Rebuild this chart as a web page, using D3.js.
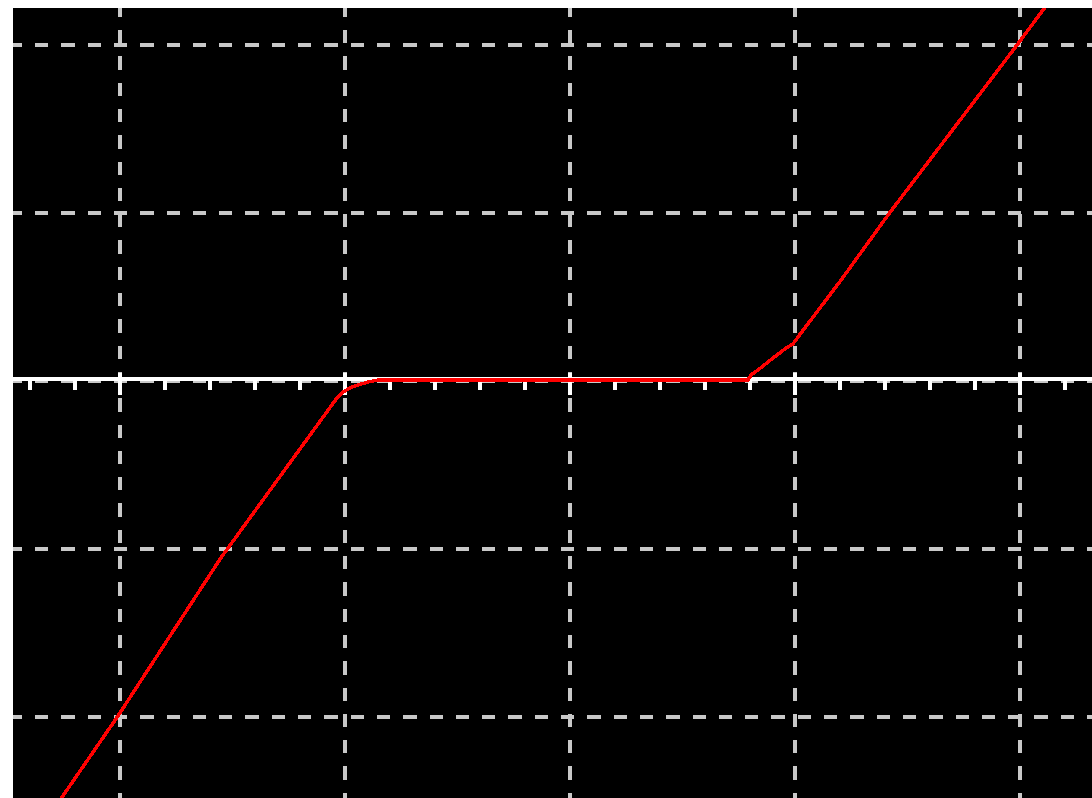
<!DOCTYPE html>
<html>
<head>
<meta charset="utf-8">
<script src="https://cdn.jsdelivr.net/npm/d3@7"></script>
<style>
  html, body { margin: 0; padding: 0; background: #ffffff; overflow: hidden; }
  svg { display: block; }
</style>
</head>
<body>
<script>
// ---- data ----
const xGridValues = [-2, -1, 0, 1, 2];
const yGridValues = [2, 1, 0, -1, -2];
const xMinorTicks = [-2.4, -2.2, -1.8, -1.6, -1.4, -1.2, -0.8, -0.6, -0.4, -0.2,
                     0.2, 0.4, 0.6, 0.8, 1.2, 1.4, 1.6, 1.8, 2.2];
const xMajorTicks = [-2, -1, 0, 1, 2];
const seriesX = [-2.47, -2.01, -1.55, -1.04, -1.007, -0.962, -0.896, -0.851,
                 0.793, 0.807, 0.838, 0.882, 0.962, 0.993, 1.029, 1.207, 1.42, 1.989, 2.104, 2.33];
const seriesY = [-2.90, -2.006, -1.06, -0.119, -0.071, -0.039, -0.012, 0,
                 0, 0.03, 0.06, 0.107, 0.19, 0.214, 0.28, 0.595, 0.99, 1.994, 2.202, 2.6];

// ---- layout ----
const W = 1092, H = 798;
const plot = { left: 13, top: 8, right: 1092, bottom: 798 };

const svg = d3.select("body").append("svg").attr("width", W).attr("height", H);

const x = d3.scaleLinear().domain([-2, 2]).range([119.5, 1019.5]);
const y = d3.scaleLinear().domain([-2, 2]).range([717, 45]);

svg.append("defs").append("clipPath").attr("id", "clip")
  .append("rect").attr("x", plot.left).attr("y", plot.top)
  .attr("width", plot.right - plot.left).attr("height", plot.bottom - plot.top);

svg.append("rect").attr("x", plot.left).attr("y", plot.top)
  .attr("width", plot.right - plot.left).attr("height", plot.bottom - plot.top)
  .attr("fill", "#000000");

const g = svg.append("g").attr("clip-path", "url(#clip)");

// grid
const gridColor = "#c8c8c8";
g.append("g").selectAll("line").data(yGridValues).join("line")
  .attr("x1", plot.left).attr("x2", plot.right)
  .attr("y1", d => y(d)).attr("y2", d => y(d))
  .attr("stroke", gridColor).attr("stroke-width", 4)
  .attr("stroke-dasharray", "13.3 13").attr("stroke-dashoffset", 4.3)
  .attr("shape-rendering", "crispEdges");

g.append("g").selectAll("line").data(xGridValues).join("line")
  .attr("y1", plot.top).attr("y2", plot.bottom)
  .attr("x1", d => x(d)).attr("x2", d => x(d))
  .attr("stroke", gridColor).attr("stroke-width", 4)
  .attr("stroke-dasharray", "13.3 13").attr("stroke-dashoffset", 4.3)
  .attr("shape-rendering", "crispEdges");

// x axis line at y = 0
const y0 = y(0) - 2;
g.append("line")
  .attr("x1", plot.left).attr("x2", plot.right)
  .attr("y1", y0).attr("y2", y0)
  .attr("stroke", "#ffffff").attr("stroke-width", 4)
  .attr("shape-rendering", "crispEdges");

g.append("g").selectAll("line").data(xMinorTicks).join("line")
  .attr("x1", d => x(d)).attr("x2", d => x(d))
  .attr("y1", y0).attr("y2", y0 + 11)
  .attr("stroke", "#ffffff").attr("stroke-width", 4)
  .attr("shape-rendering", "crispEdges");

g.append("g").selectAll("line").data(xMajorTicks).join("line")
  .attr("x1", d => x(d)).attr("x2", d => x(d))
  .attr("y1", y0 - 6).attr("y2", y0 + 16)
  .attr("stroke", "#ffffff").attr("stroke-width", 4)
  .attr("shape-rendering", "crispEdges");

// series
const pts = seriesX.map((v, i) => [v, seriesY[i]]);
g.append("path")
  .datum(pts)
  .attr("d", d3.line().x(d => x(d[0])).y(d => y(d[1]) - 1))
  .attr("fill", "none")
  .attr("stroke", "#ff0000")
  .attr("stroke-width", 3.5)
  .attr("stroke-linejoin", "round")
  .attr("shape-rendering", "crispEdges");
</script>
</body>
</html>
